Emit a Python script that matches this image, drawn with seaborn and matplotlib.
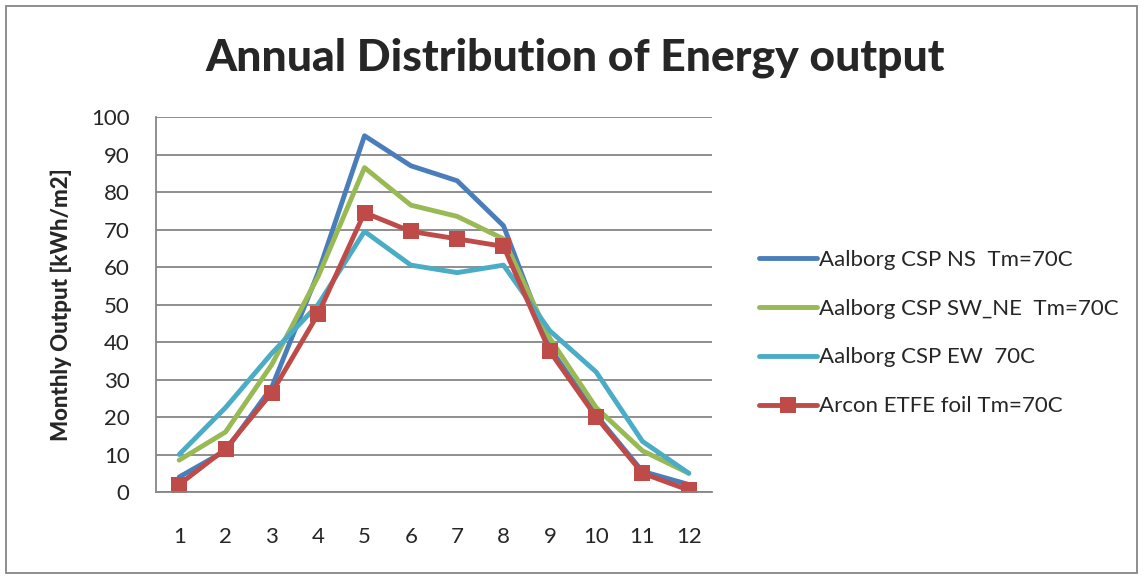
import numpy as np
import pandas as pd
import matplotlib
matplotlib.use("Agg")
import matplotlib.pyplot as plt
import seaborn as sns

# -------------------------------------------------------------------
# Data
# -------------------------------------------------------------------
months = list(range(1, 13))
ns_70 = [4.0, 11.0, 28.0, 58.5, 95.0, 87.0, 83.0, 71.0, 38.5, 20.5, 5.5, 2.0]
sw_ne_70 = [8.5, 16.0, 34.0, 57.5, 86.5, 76.5, 73.5, 67.5, 41.0, 22.5, 11.0, 5.0]
ew_70 = [10.0, 22.5, 37.0, 50.0, 69.5, 60.5, 58.5, 60.5, 43.0, 32.0, 13.5, 5.0]
arcon_70 = [2.0, 11.5, 26.5, 47.5, 74.5, 69.5, 67.5, 65.5, 37.5, 20.0, 5.0, 0.5]

series = {
    "Aalborg CSP NS  Tm=70C": ns_70,
    "Aalborg CSP SW_NE  Tm=70C": sw_ne_70,
    "Aalborg CSP EW  70C": ew_70,
    "Arcon ETFE foil Tm=70C": arcon_70,
}
colors = ["#4A7EBB", "#98B954", "#4BACC6", "#BE4B48"]

sns.set_style("white")
plt.rcParams["font.family"] = ["Lato", "DejaVu Sans"]

fig = plt.figure(figsize=(11.43, 5.77), dpi=100)
ax = fig.add_axes([0.1365, 0.1473, 0.4864, 0.6499])

for (name, vals), col in zip(series.items(), colors):
    df = pd.DataFrame({"Month": months, "Output": vals})
    is_arcon = name.startswith("Arcon")
    sns.lineplot(data=df, x="Month", y="Output", ax=ax, color=col, lw=3.5,
                 label=name, marker="s" if is_arcon else None,
                 markersize=11, markeredgewidth=0)

ax.set_xlim(0.5, 12.5)
ax.set_ylim(0, 100)
ax.set_xticks(months)
ax.set_yticks(np.arange(0, 101, 10))
ax.tick_params(axis="both", labelsize=16, length=0)
ax.tick_params(axis="y", pad=19)
ax.tick_params(axis="x", pad=25)
ax.yaxis.grid(True, color="#868686", lw=1.3)
ax.set_axisbelow(True)
for side in ["top", "right"]:
    ax.spines[side].set_visible(False)
for side in ["left", "bottom"]:
    ax.spines[side].set_color("#868686")
    ax.spines[side].set_linewidth(1.3)
ax.set_xlabel("")
ax.set_ylabel("Monthly Output [kWh/m2]", fontsize=16, fontweight="black", labelpad=14)

fig.text(575 / 1143, 1 - 58 / 577, "Annual Distribution of Energy output",
         ha="center", va="center", fontsize=32, fontweight="black")

ax.legend(loc="center left", bbox_to_anchor=(750 / 1143, 1 - 333 / 577),
          bbox_transform=fig.transFigure, frameon=False, fontsize=16,
          handlelength=2.6, handletextpad=0.1, labelspacing=1.3, borderaxespad=0)

# outer chart border
fig.patches.append(plt.Rectangle((6 / 1143, 4 / 577), 1 - 12 / 1143, 1 - 10 / 577,
                                 transform=fig.transFigure, fill=False,
                                 edgecolor="#868686", lw=1.3))

fig.savefig("out.png", dpi=100)
